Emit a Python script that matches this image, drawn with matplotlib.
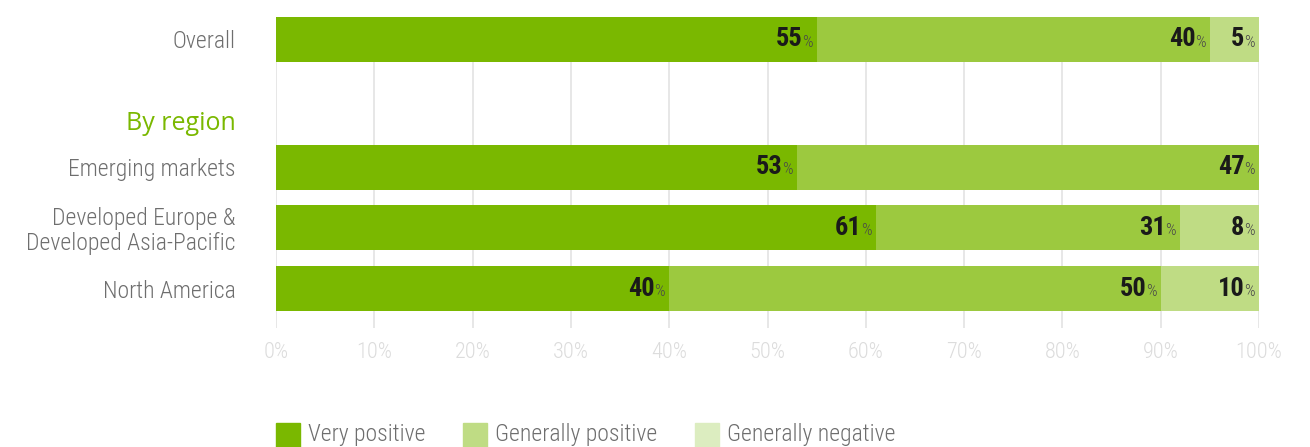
import matplotlib.pyplot as plt
from matplotlib.patches import Rectangle

# Datos
categorias = ['Overall', 'Emerging markets',
              'Developed Europe &\nDeveloped Asia-Pacific', 'North America']
posiciones = [0, 2.1, 3.1, 4.1]
muy_positivo = [55, 53, 61, 40]
gen_positivo = [40, 47, 31, 50]
gen_negativo = [5, 0, 8, 10]
series = ['Very positive', 'Generally positive', 'Generally negative']
ticks = [0, 10, 20, 30, 40, 50, 60, 70, 80, 90, 100]

col_barras = ['#7ab800', '#9cc93f', '#bfdc84']
col_leyenda = ['#7ab800', '#bfdc84', '#dcedc0']
gris = '#6e6e6e'
fuente = ['Roboto Condensed', 'DejaVu Sans']

plt.rcParams['font.family'] = fuente

fig = plt.figure(figsize=(13.1, 4.47), dpi=100)
ax = fig.add_axes([276 / 1310, 1 - 328 / 447, (1259 - 276) / 1310, (328 - 17) / 447])

# Líneas de la cuadrícula
for t in ticks:
    ax.axvline(t, color='#e3e3e3', lw=1.2, zorder=0)

# Barras apiladas
izq = [0] * len(categorias)
for valores, color in zip([muy_positivo, gen_positivo, gen_negativo], col_barras):
    ax.barh(posiciones, valores, left=izq, height=0.74, color=color, zorder=2)
    for y, l, v in zip(posiciones, izq, valores):
        if v > 0:
            fin = l + v
            ax.annotate('%', (fin, y), xytext=(-3, -2), textcoords='offset points',
                        ha='right', va='center', fontsize=12, color='#4a4a4a',
                        fontweight='light', zorder=3)
            ax.annotate(str(v), (fin, y), xytext=(-10.5, 0), textcoords='offset points',
                        ha='right', va='center', fontsize=19, fontweight='bold',
                        color='#1a1a1a', zorder=3)
    izq = [a + b for a, b in zip(izq, valores)]

ax.set_xlim(0, 100)
ax.set_ylim(4.75, -0.37)
ax.set_yticks(posiciones)
ax.set_yticklabels(categorias, fontsize=17, color=gris, linespacing=1.1,
                   fontweight='light')
ax.tick_params(axis='y', length=0, pad=29)
ax.set_xticks(ticks)
ax.set_xticklabels([f'{t}%' for t in ticks], fontsize=16, color='#dcdcdc',
                   fontweight='light')
ax.tick_params(axis='x', length=0, pad=10)
for s in ax.spines.values():
    s.set_visible(False)

# Subtítulo
fig.text(236 / 1310, 1 - 124 / 447, 'By region', ha='right', va='center', fontsize=18,
         color='#7ab800', family=['Open Sans', 'DejaVu Sans'])

# Leyenda manual
xs_cuadro = [276, 463, 695]
for x, nombre, color in zip(xs_cuadro, series, col_leyenda):
    fig.patches.append(Rectangle((x / 1310, 0), 24 / 1310, 24 / 447,
                                 transform=fig.transFigure, color=color))
    fig.text((x + 32) / 1310, 12 / 447, nombre, ha='left', va='center',
             fontsize=17, color=gris, fontweight='light')

fig.savefig('out.png')
